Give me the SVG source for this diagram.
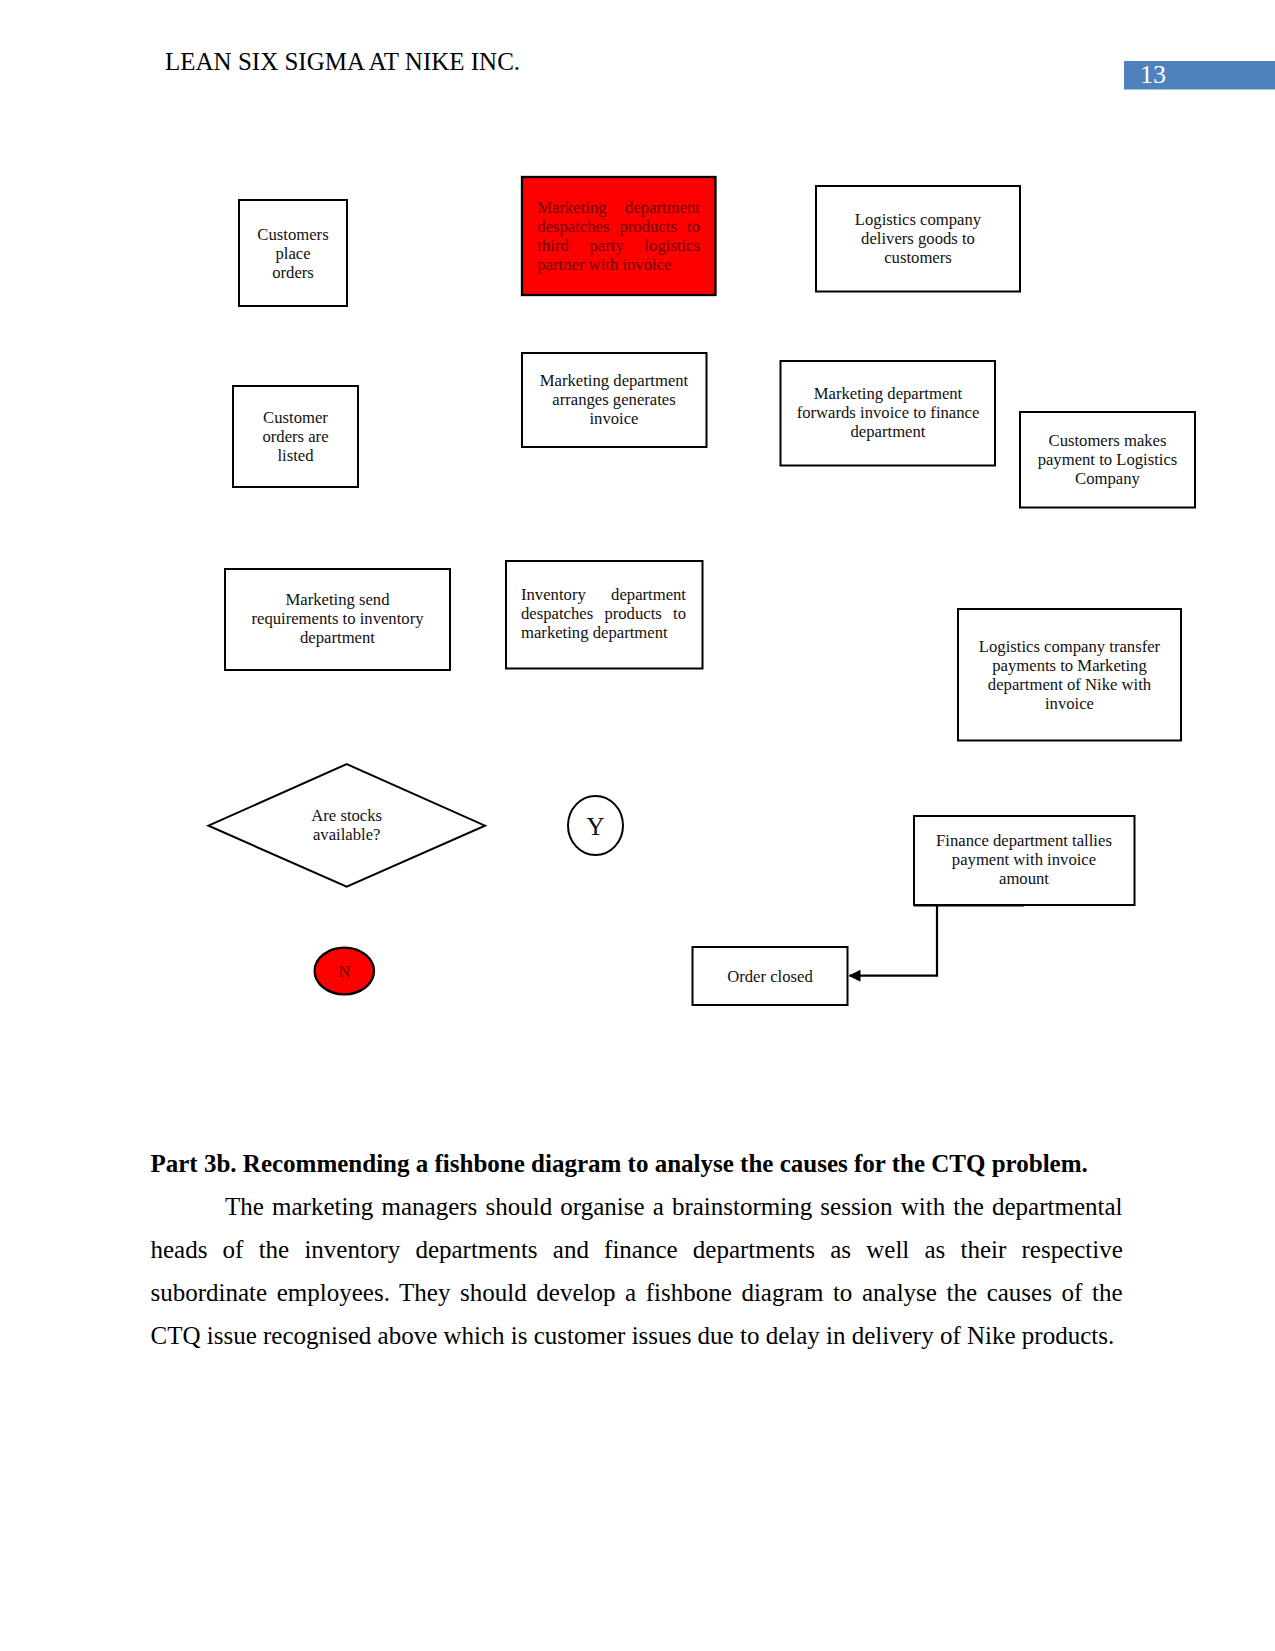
<svg xmlns="http://www.w3.org/2000/svg" width="1275" height="1651" viewBox="0 0 1275 1651">
<style>
  .page { font-family: "Liberation Serif", "Times New Roman", serif; font-variant-ligatures: none; }
  .box { fill: #ffffff; stroke: #000000; stroke-width: 2; }
  .red { fill: #ff0000; stroke: #000000; stroke-width: 2.3; }
  .t { font-size: 16.67px; fill: #111111; text-anchor: middle; }
  .tl { font-size: 16.67px; fill: #6e0000; }
  .tj { font-size: 16.67px; fill: #111111; }
  .body { font-size: 25px; fill: #000000; }
  .conn { fill: none; stroke: #000000; stroke-width: 2.2; }
</style>
<defs>
  <marker id="arrow" viewBox="0 0 12 12" refX="11" refY="6" markerWidth="12" markerHeight="12" markerUnits="userSpaceOnUse" orient="auto">
    <path d="M0,0 L12,6 L0,12 Z" fill="#000000"/>
  </marker>
</defs>
<rect width="1275" height="1651" fill="#ffffff"/>
<g class="page">
  <g id="header">
    <text x="165" y="70" class="body">LEAN SIX SIGMA AT NIKE INC.</text>
    <rect x="1124" y="61" width="151" height="28.5" fill="#4f81bd"/>
    <text x="1140" y="83" font-size="26" fill="#ffffff">13</text>
  </g>

  <g id="customers-place-orders">
    <rect class="box" x="239" y="200" width="108" height="106"/>
    <text class="t" x="293" y="239.5">Customers</text>
    <text class="t" x="293" y="258.5">place</text>
    <text class="t" x="293" y="277.5">orders</text>
  </g>

  <g id="marketing-despatches">
    <rect class="red" x="522" y="177" width="193.5" height="118"/>
    <text class="tl" x="537.3" y="212.5">Marketing</text>
    <text class="tl" x="700" y="212.5" text-anchor="end">department</text>
    <text class="tl" x="537.3" y="231.5">despatches</text>
    <text class="tl" x="619.5" y="231.5">products</text>
    <text class="tl" x="700" y="231.5" text-anchor="end">to</text>
    <text class="tl" x="537.3" y="250.5">third</text>
    <text class="tl" x="589.5" y="250.5">party</text>
    <text class="tl" x="700" y="250.5" text-anchor="end">logistics</text>
    <text class="tl" x="537.3" y="269.5">partner with invoice</text>
  </g>

  <g id="logistics-delivers">
    <rect class="box" x="816" y="186" width="204" height="105.5"/>
    <text class="t" x="918" y="224.5">Logistics company</text>
    <text class="t" x="918" y="243.5">delivers goods to</text>
    <text class="t" x="918" y="262.5">customers</text>
  </g>

  <g id="customer-orders-listed">
    <rect class="box" x="233" y="386" width="125" height="101"/>
    <text class="t" x="295.5" y="422.5">Customer</text>
    <text class="t" x="295.5" y="441.5">orders are</text>
    <text class="t" x="295.5" y="460.5">listed</text>
  </g>

  <g id="marketing-generates-invoice">
    <rect class="box" x="522" y="353" width="184.5" height="94"/>
    <text class="t" x="614" y="385.5">Marketing department</text>
    <text class="t" x="614" y="404.5">arranges generates</text>
    <text class="t" x="614" y="423.5">invoice</text>
  </g>

  <g id="marketing-forwards-invoice">
    <rect class="box" x="780.5" y="361" width="214.5" height="104.5"/>
    <text class="t" x="888" y="399">Marketing department</text>
    <text class="t" x="888" y="418">forwards invoice to finance</text>
    <text class="t" x="888" y="437">department</text>
  </g>

  <g id="customers-make-payment">
    <rect class="box" x="1020" y="412" width="175" height="95.5"/>
    <text class="t" x="1107.5" y="445.5">Customers makes</text>
    <text class="t" x="1107.5" y="464.5">payment to Logistics</text>
    <text class="t" x="1107.5" y="483.5">Company</text>
  </g>

  <g id="marketing-send-requirements">
    <rect class="box" x="225" y="569" width="225" height="101"/>
    <text class="t" x="337.5" y="605">Marketing send</text>
    <text class="t" x="337.5" y="624">requirements to inventory</text>
    <text class="t" x="337.5" y="643">department</text>
  </g>

  <g id="inventory-despatches">
    <rect class="box" x="506" y="561" width="196.5" height="107.5"/>
    <text class="tj" x="521" y="600">Inventory</text>
    <text class="tj" x="686" y="600" text-anchor="end">department</text>
    <text class="tj" x="521" y="619">despatches</text>
    <text class="tj" x="604.4" y="619">products</text>
    <text class="tj" x="686" y="619" text-anchor="end">to</text>
    <text class="tj" x="521" y="638">marketing department</text>
  </g>

  <g id="logistics-transfer-payments">
    <rect class="box" x="958" y="609" width="223" height="131.5"/>
    <text class="t" x="1069.5" y="651.5">Logistics company transfer</text>
    <text class="t" x="1069.5" y="670.5">payments to Marketing</text>
    <text class="t" x="1069.5" y="689.5">department of Nike with</text>
    <text class="t" x="1069.5" y="708.5">invoice</text>
  </g>

  <g id="stocks-decision">
    <polygon class="box" points="208.5,825.7 346.7,764 485,825.7 346.7,886.7"/>
    <text class="t" x="346.7" y="821">Are stocks</text>
    <text class="t" x="346.7" y="840">available?</text>
  </g>

  <g id="yes">
    <ellipse class="box" cx="595.5" cy="825.5" rx="27.5" ry="29.5"/>
    <text x="595.5" y="835" font-size="25" fill="#111111" text-anchor="middle">Y</text>
  </g>

  <g id="no">
    <ellipse class="red" cx="344.3" cy="971" rx="29.7" ry="23.3"/>
    <text x="344.3" y="977" font-size="17" fill="#6e0000" text-anchor="middle">N</text>
  </g>

  <g id="finance-tallies">
    <rect class="box" x="914" y="816" width="220.5" height="89"/>
    <line x1="914" y1="906" x2="1024" y2="906" stroke="#000000" stroke-width="1.2"/>
    <text class="t" x="1024" y="845.5">Finance department tallies</text>
    <text class="t" x="1024" y="864.5">payment with invoice</text>
    <text class="t" x="1024" y="883.5">amount</text>
  </g>

  <g id="order-closed">
    <rect class="box" x="692.5" y="947" width="155" height="58"/>
    <text class="t" x="770" y="981.5">Order closed</text>
  </g>

  <g id="connectors">
    <path class="conn" d="M937,905 V975.7 H849.5" marker-end="url(#arrow)"/>
  </g>

  <g id="body-text">
    <text x="150.5" y="1172" class="body" font-weight="bold">Part 3b. Recommending a fishbone diagram to analyse the causes for the CTQ problem.</text>
    <text x="225" y="1215" class="body" word-spacing="1.9">The marketing managers should organise a brainstorming session with the departmental</text>
    <text x="150.5" y="1258" class="body" word-spacing="8.95">heads of the inventory departments and finance departments as well as their respective</text>
    <text x="150.5" y="1301" class="body" word-spacing="3.35">subordinate employees. They should develop a fishbone diagram to analyse the causes of the</text>
    <text x="150.5" y="1344" class="body">CTQ issue recognised above which is customer issues due to delay in delivery of Nike products.</text>
  </g>
</g>
</svg>
